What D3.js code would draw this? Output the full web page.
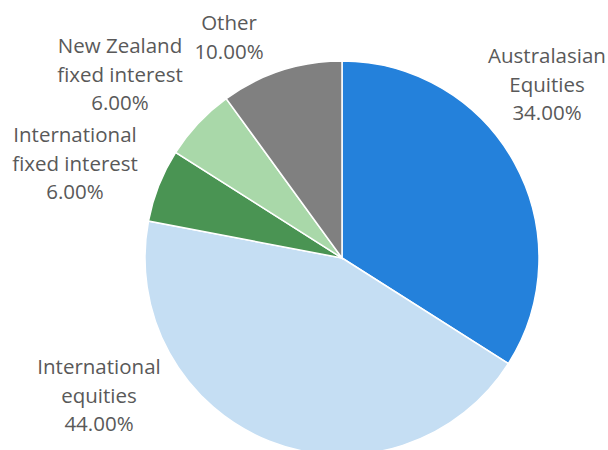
<!DOCTYPE html>
<html><head><meta charset="utf-8">
<script src="https://cdn.jsdelivr.net/npm/d3@7"></script>
<style>body{margin:0;background:#fff}svg{display:block}</style>
</head><body>
<svg id="c" width="608" height="450"></svg>
<script>
const categories = ["Australasian Equities","International equities","International fixed interest","New Zealand fixed interest","Other"];
const values = [34, 44, 6, 6, 10];
const colors = ["#2481DB","#C5DEF3","#4A9453","#A9D8A9","#808080"];
const labelLines = [["Australasian","Equities"],["International","equities"],["International","fixed interest"],["New Zealand","fixed interest"],["Other"]];
const labelPos = [[547,55],[99,366],[75,134],[120,45],[229,22]];

const svg = d3.select("#c");
const cx = 342, cy = 258, r = 197;
const pie = d3.pie().sort(null).value(d => d)(values);
const arc = d3.arc().innerRadius(0).outerRadius(r);
const g = svg.append("g").attr("transform", `translate(${cx},${cy})`);
g.selectAll("path").data(pie).join("path")
  .attr("d", arc).attr("fill", (d,i) => colors[i])
  .attr("stroke", "#fff").attr("stroke-width", 1.5);

const fmt = d3.format(".2f");
const lh = 28.5;
labelPos.forEach((p, i) => {
  const lines = labelLines[i].concat([fmt(values[i]) + "%"]);
  const t = svg.append("text").attr("text-anchor","middle")
    .attr("font-family","'Open Sans', sans-serif").attr("font-size",20.5).attr("fill","#595959");
  lines.forEach((s, j) => t.append("tspan").attr("x", p[0]).attr("y", p[1] + j*lh).attr("dominant-baseline","central").text(s));
});
</script>
</body></html>
